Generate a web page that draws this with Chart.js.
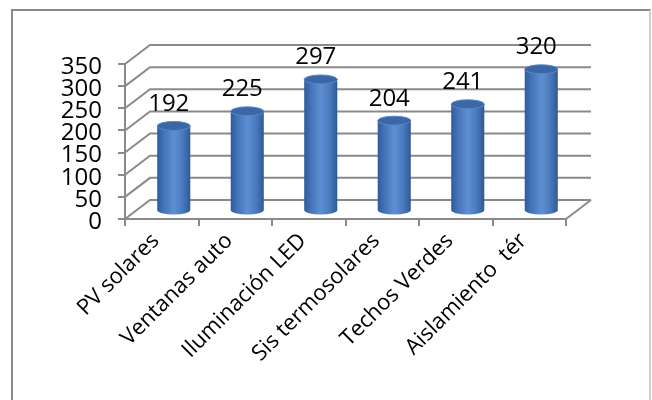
<!DOCTYPE html>
<html>
<head>
<meta charset="utf-8">
<script src="https://cdn.jsdelivr.net/npm/chart.js@4/dist/chart.umd.min.js"></script>
<style>
  body { margin: 0; background: #fff; }
  #wrap { position: relative; width: 652px; height: 400px; overflow: hidden; }
  #frame {
    position: absolute; left: 11px; top: 9px; width: 636px; height: 420px;
    border: 2px solid #8a8a8a; border-right-color: #cfcfcf;
    pointer-events: none;
  }
</style>
</head>
<body>
<div id="wrap">
  <canvas id="chart" width="652" height="400"></canvas>
  <div id="frame"></div>
</div>
<script>
// data
const categories = ['PV solares', 'Ventanas auto', 'Iluminación LED', 'Sis termosolares', 'Techos Verdes', 'Aislamiento  tér'];
const values = [192, 225, 297, 204, 241, 320];
const yMin = 0;
const yMax = 350;
const yStep = 50;

// pseudo 3D settings
const DEPTH_X = 25, DEPTH_Y = -19;   // back wall offset
const BAR_DX = 12, BAR_DY = -8;      // cylinders sit half way in
const CAP_RY = 4.5;
const GRID = '#8a8a8a';
const FONT = '"Open Sans", "Noto Sans", sans-serif';

function cylinderGradient(ctx, cx, half) {
  const g = ctx.createLinearGradient(cx - half, 0, cx + half, 0);
  g.addColorStop(0, '#2f5b9b');
  g.addColorStop(0.2, '#4473b6');
  g.addColorStop(0.5, '#5e8fd5');
  g.addColorStop(0.75, '#4c7cc0');
  g.addColorStop(1, '#2e5996');
  return g;
}

function cylinderFill(context) {
  const chart = context.chart;
  const sx = chart.scales.x;
  if (!sx || !chart.chartArea || context.dataIndex === undefined) return '#4f81bd';
  const cx = sx.getPixelForValue(context.dataIndex);
  const half = (sx.right - sx.left) / categories.length * 0.45 / 2;
  if (!isFinite(cx) || !isFinite(half)) return '#4f81bd';
  return cylinderGradient(chart.ctx, cx, half);
}

const wall3d = {
  id: 'wall3d',
  beforeDatasetsDraw(chart) {
    const { ctx, chartArea } = chart;
    const y = chart.scales.y;
    ctx.save();
    ctx.strokeStyle = GRID;
    ctx.lineWidth = 2;
    ctx.beginPath();
    y.ticks.forEach(t => {
      const py = y.getPixelForValue(t.value);
      ctx.moveTo(chartArea.left, py);
      ctx.lineTo(chartArea.left + DEPTH_X, py + DEPTH_Y);
      ctx.lineTo(chartArea.right + DEPTH_X, py + DEPTH_Y);
    });
    // right edge of the floor
    ctx.moveTo(chartArea.right, chartArea.bottom);
    ctx.lineTo(chartArea.right + DEPTH_X, chartArea.bottom + DEPTH_Y);
    ctx.stroke();
    ctx.restore();

    // push the cylinders back into the box
    ctx.save();
    ctx.translate(BAR_DX, BAR_DY);
  },
  afterDatasetsDraw(chart) {
    const ctx = chart.ctx;
    const meta = chart.getDatasetMeta(0);
    meta.data.forEach(bar => {
      const half = bar.width / 2;
      // rounded bottom
      ctx.beginPath();
      ctx.ellipse(bar.x, bar.base, half, CAP_RY, 0, 0, Math.PI);
      ctx.fillStyle = cylinderGradient(ctx, bar.x, half);
      ctx.fill();
      // top cap
      ctx.beginPath();
      ctx.ellipse(bar.x, bar.y, half, CAP_RY, 0, 0, Math.PI * 2);
      ctx.fillStyle = '#3b67a7';
      ctx.fill();
      ctx.strokeStyle = '#5a88c9';
      ctx.lineWidth = 1;
      ctx.stroke();
    });
    ctx.restore();

    // value labels
    ctx.save();
    ctx.fillStyle = '#000';
    ctx.font = '24px ' + FONT;
    ctx.textAlign = 'center';
    ctx.textBaseline = 'middle';
    meta.data.forEach((bar, i) => {
      ctx.fillText(String(values[i]), bar.x + BAR_DX - 5, bar.y + BAR_DY - 22);
    });
    ctx.restore();
  }
};

new Chart(document.getElementById('chart'), {
  type: 'bar',
  data: {
    labels: categories,
    datasets: [{
      data: values,
      backgroundColor: cylinderFill,
      borderWidth: 0,
      categoryPercentage: 0.45,
      barPercentage: 1,
      clip: false
    }]
  },
  options: {
    responsive: false,
    animation: false,
    events: [],
    layout: { padding: { top: 64, right: 86, left: 0, bottom: 0 } },
    plugins: {
      legend: { display: false },
      tooltip: { enabled: false }
    },
    scales: {
      x: {
        afterFit(scale) { scale.height = 181; },
        grid: {
          offset: true,
          drawOnChartArea: false,
          tickLength: 7,
          color: GRID,
          lineWidth: 2
        },
        border: { display: true, color: GRID, width: 2 },
        ticks: {
          minRotation: 45,
          maxRotation: 45,
          autoSkip: false,
          color: '#000',
          padding: 2,
          labelOffset: -6,
          font: { family: FONT, size: 22 }
        }
      },
      y: {
        min: yMin,
        max: yMax,
        afterFit(scale) { scale.width = 125; },
        grid: {
          drawOnChartArea: false,
          tickLength: 7,
          color: GRID,
          lineWidth: 2
        },
        border: { display: true, color: GRID, width: 2 },
        ticks: {
          stepSize: yStep,
          autoSkip: false,
          color: '#000',
          padding: 16,
          labelOffset: 3,
          font: { family: FONT, size: 24 }
        }
      }
    }
  },
  plugins: [wall3d]
});
</script>
</body>
</html>
